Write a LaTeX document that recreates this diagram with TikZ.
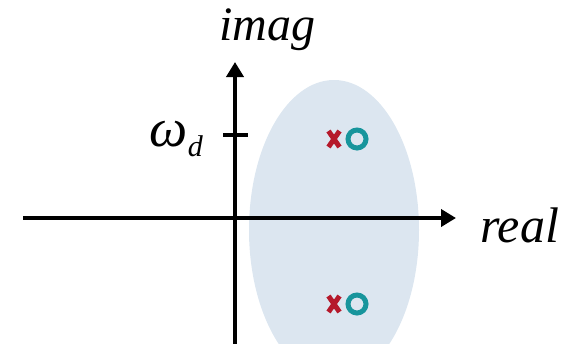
\documentclass[tikz,border=0pt]{standalone}
\usepackage{fontspec}
\setmainfont{Liberation Serif}
\usetikzlibrary{positioning,arrows.meta,shapes.misc}
\definecolor{ink}     {HTML}{000000}
\definecolor{polered} {HTML}{B5192B}
\definecolor{zeroteal}{HTML}{17959C}
\definecolor{region}  {HTML}{DCE6F0}
\tikzset{
  % --- axes
  axis/.style  = {line width=4.5pt, draw=ink, -{Triangle[length=15pt,width=17pt]}},
  tickmk/.style= {line width=4pt, draw=ink},
  % --- labels
  lbl/.style   = {font=\fontsize{48}{52}\selectfont\itshape, inner sep=0pt},
  % --- poles and zeros
  pole/.style  = {cross out, draw=polered, line width=5pt, minimum width=11pt,
                  minimum height=16pt, inner sep=0pt, outer sep=0pt},
  zero/.style  = {circle, draw=zeroteal, line width=5pt, minimum size=18pt,
                  inner sep=0pt, outer sep=0pt},
}
\begin{document}
\begin{tikzpicture}[x=1pt,y=-1pt]
  \clip (0,0) rectangle (576,343);
  % stability region
  \fill[region] (334,230) ellipse [x radius=85, y radius=150];
  % axes
  \coordinate (xl) at (23,218);  \coordinate (xr) at (456,218);
  \coordinate (yb) at (235,350); \coordinate (yt) at (235,62);
  \coordinate (wd) at (235,135);
  \draw[axis] (xl) -- (xr);
  \draw[axis] (yb) -- (yt);
  \draw[tickmk] ([xshift=-12pt]wd) -- ([xshift=13pt]wd);
  % labels
  \node[lbl, anchor=base] (imlbl) at (267,40) {imag};
  \node[lbl, anchor=base west, font=\fontsize{50}{54}\selectfont\itshape] (relbl) at (480,242) {real};
  \node[lbl, anchor=base east] (wdlbl) at (203,146)
       {{\fontsize{54}{58}\selectfont ω}\raisebox{-10pt}{\fontsize{30}{32}\selectfont d}};
  % poles (x) and zeros (o)
  \node[pole] (p1) at (334,139) {};
  \node[zero] (z1) at (357,139) {};
  \node[pole] (p2) at (334,304) {};
  \node[zero] (z2) at (357,304) {};
\end{tikzpicture}
\end{document}
